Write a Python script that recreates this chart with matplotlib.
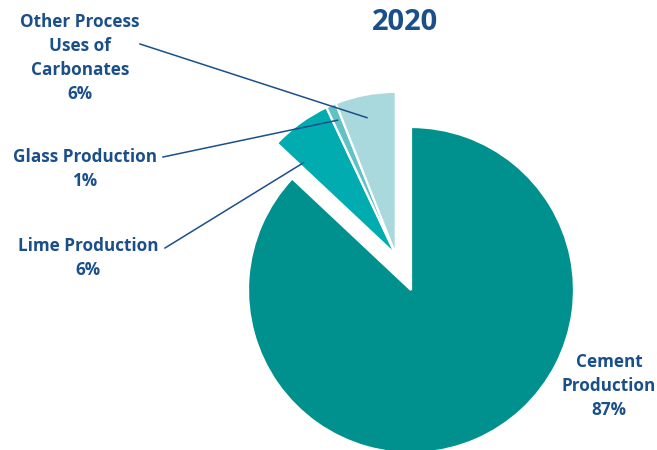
import numpy as np
import matplotlib.pyplot as plt

# 2020 shares of process CO2 from carbonate use
sources = ['Cement\nProduction', 'Lime Production', 'Glass Production',
           'Other Process\nUses of\nCarbonates']
shares = [87, 6, 1, 6]
colors = ['#00918f', '#00acb0', '#5fc3c6', '#a9d9dc']
year = '2020'

text_color = '#1b4f8a'
plt.rcParams['font.family'] = ['Open Sans', 'DejaVu Sans']

W, H = 657, 450
fig = plt.figure(figsize=(W / 100, H / 100), dpi=100)
ax = fig.add_axes([0, 0, 1, 1])

wedges, _ = ax.pie(shares, colors=colors, startangle=90, counterclock=False,
                   wedgeprops=dict(edgecolor='white', linewidth=1.6))

# pull the small slices out together, along the bisector of the group
small = wedges[1:]
lo = min(w.theta1 for w in small)
hi = max(w.theta2 for w in small)
mid = np.deg2rad((lo + hi) / 2)
shift = 0.235
for w in small:
    w.set_center((shift * np.cos(mid), shift * np.sin(mid)))

# pixel scale: radius 1 -> 163 px, pie centre at (411, 290) from top-left
scale, cx, cy = 163.0, 411.0, 290.0
ax.set_aspect('auto')
ax.set_xlim(-cx / scale, (W - cx) / scale)
ax.set_ylim(-(H - cy) / scale, cy / scale)
ax.axis('off')


def px(x, y):
    return ((x - cx) / scale, (cy - y) / scale)


def inside(w, afrac, rfrac):
    a = np.deg2rad(w.theta1 + afrac * (w.theta2 - w.theta1))
    c = w.center
    return (c[0] + rfrac * w.r * np.cos(a), c[1] + rfrac * w.r * np.sin(a))


ax.text(*px(405, 23), year, ha='center', va='center', fontsize=21,
        fontweight='bold', color=text_color)

lbl = dict(ha='center', va='center', fontsize=12.3, fontweight='bold',
           color=text_color, linespacing=1.45)

# cement label, no leader
ax.text(*px(609, 386), f'{sources[0]}\n{shares[0]}%', **lbl)

# small slices: label position, leader start, point inside the wedge
callouts = [
    (1, (88, 258), (165, 248), 0.92, 0.8),
    (2, (85, 169), (163, 157), 0.5, 0.9),
    (3, (80, 58), (140, 44), 0.55, 0.86),
]
for i, lpos, lstart, af, rf in callouts:
    ax.text(*px(*lpos), f'{sources[i]}\n{shares[i]}%', **lbl)
    x0, y0 = px(*lstart)
    x1, y1 = inside(wedges[i], af, rf)
    ax.plot([x0, x1], [y0, y1], color=text_color, lw=1.1)

fig.savefig('out.png', dpi=100)
